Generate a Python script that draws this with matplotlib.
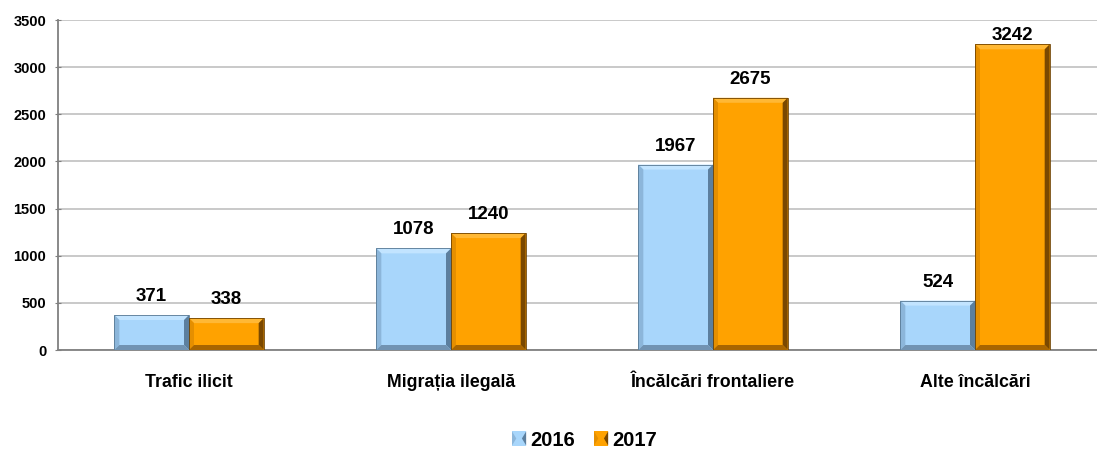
import matplotlib
matplotlib.use("Agg")
import matplotlib.pyplot as plt
from matplotlib.patches import Polygon, Rectangle
from matplotlib.legend_handler import HandlerBase
import numpy as np

plt.rcParams['font.family'] = ['Liberation Sans', 'DejaVu Sans']

categories = ["Trafic ilicit", "Migrația ilegală", "Încălcări frontaliere", "Alte încălcări"]
series_names = ["2016", "2017"]
values_2016 = [371, 1078, 1967, 524]
values_2017 = [338, 1240, 2675, 3242]
yticks = [0, 500, 1000, 1500, 2000, 2500, 3000, 3500]

W, H = 1097, 449
fig = plt.figure(figsize=(W / 100, H / 100), dpi=100)
ax_left_px, ax_w_px = 58, 1048
ax_top_px, ax_bot_px = 20, 350
ax_h_px = ax_bot_px - ax_top_px
ax = fig.add_axes([ax_left_px / W, 1 - ax_bot_px / H, ax_w_px / W, ax_h_px / H])

x = np.arange(len(categories))
w = 0.285
ymax = 3500
ax.set_xlim(-0.5, len(categories) - 0.5)
ax.set_ylim(0, ymax)

styles = [
    dict(face="#A8D6FB", top="#C2E4FF", left="#8CB6DA", right="#5C7F9E", bottom="#7193B2", edge="#587892"),
    dict(face="#FFA200", top="#FFB835", left="#E58F00", right="#7A4800", bottom="#A86500", edge="#704300"),
]

bx = 5 * len(categories) / ax_w_px
by = 5 * ymax / ax_h_px
ppu = ax_h_px / ymax  # px per data unit

for si, vals in enumerate([values_2016, values_2017]):
    st = styles[si]
    offs = (si - 0.5) * w
    bars = ax.bar(x + offs, vals, width=w, color=st["face"], edgecolor="none",
                  linewidth=0, zorder=3, label=series_names[si])
    for b, v in zip(bars, vals):
        x0, x1 = b.get_x(), b.get_x() + b.get_width()
        y0, y1 = 0, v
        dx = min(bx, (x1 - x0) / 2)
        dy = min(by, v / 2)
        ax.add_patch(Polygon([[x0, y1], [x1, y1], [x1 - dx, y1 - dy], [x0 + dx, y1 - dy]],
                             closed=True, facecolor=st["top"], edgecolor="none", zorder=4))
        ax.add_patch(Polygon([[x0, y0], [x0, y1], [x0 + dx, y1 - dy], [x0 + dx, y0 + dy]],
                             closed=True, facecolor=st["left"], edgecolor="none", zorder=4))
        ax.add_patch(Polygon([[x1, y0], [x1, y1], [x1 - dx, y1 - dy], [x1 - dx, y0 + dy]],
                             closed=True, facecolor=st["right"], edgecolor="none", zorder=4))
        ax.add_patch(Polygon([[x0, y0], [x1, y0], [x1 - dx, y0 + dy], [x0 + dx, y0 + dy]],
                             closed=True, facecolor=st["bottom"], edgecolor="none", zorder=4))
        ax.add_patch(Rectangle((x0, y0), x1 - x0, y1 - y0, fill=False,
                               edgecolor=st["edge"], linewidth=0.6, zorder=5))
        top_space_px = (ymax - v) * ppu
        off_px = max(0.5, min(10, top_space_px - 24))
        ax.annotate(str(v), (b.get_x() + b.get_width() / 2, v), xytext=(0, off_px * 0.72),
                    textcoords="offset points", ha="center", va="bottom",
                    fontsize=13.5, fontweight="bold", color="black")

ax.set_yticks(yticks)
ax.set_yticklabels([str(t) for t in yticks], fontsize=10.5, fontweight="bold")
ax.set_xticks(x)
ax.set_xticklabels(categories, fontsize=12.8, fontweight="bold")
ax.tick_params(axis='x', length=0, pad=17)
ax.tick_params(axis='y', length=5, color="#808080", pad=6, direction="inout")
ax.yaxis.grid(True, color="#C0C0C0", linewidth=1.2, zorder=0)
ax.set_axisbelow(True)
for s in ["top", "right"]:
    ax.spines[s].set_visible(False)
for s in ["left", "bottom"]:
    ax.spines[s].set_color("#808080")
    ax.spines[s].set_linewidth(1.3)


class BevelHandler(HandlerBase):
    def __init__(self, st):
        super().__init__()
        self.st = st

    def create_artists(self, legend, orig_handle, xdescent, ydescent, width, height, fontsize, trans):
        st = self.st
        s = height
        x0 = -xdescent + (width - s) / 2
        y0 = -ydescent
        d = s * 0.3
        arts = [Rectangle((x0, y0), s, s, facecolor=st["face"], edgecolor="none", transform=trans)]
        arts.append(Polygon([[x0, y0], [x0, y0 + s], [x0 + d, y0 + s / 2]], closed=True,
                            facecolor=st["left"], edgecolor="none", transform=trans))
        arts.append(Polygon([[x0 + s, y0], [x0 + s, y0 + s], [x0 + s - d, y0 + s / 2]], closed=True,
                            facecolor=st["right"], edgecolor="none", transform=trans))
        return arts


handles = [Rectangle((0, 0), 1, 1), Rectangle((0, 0), 1, 1)]
leg = fig.legend(handles, series_names, loc="center", bbox_to_anchor=(585 / W, 1 - 440 / H), ncol=2,
                 frameon=False, prop=dict(size=14.5, weight="bold"), handlelength=0.6,
                 handleheight=0.7, handletextpad=0.25, columnspacing=1.0, borderpad=0,
                 borderaxespad=0,
                 handler_map={handles[0]: BevelHandler(styles[0]), handles[1]: BevelHandler(styles[1])})

fig.savefig("out.png", dpi=100)
